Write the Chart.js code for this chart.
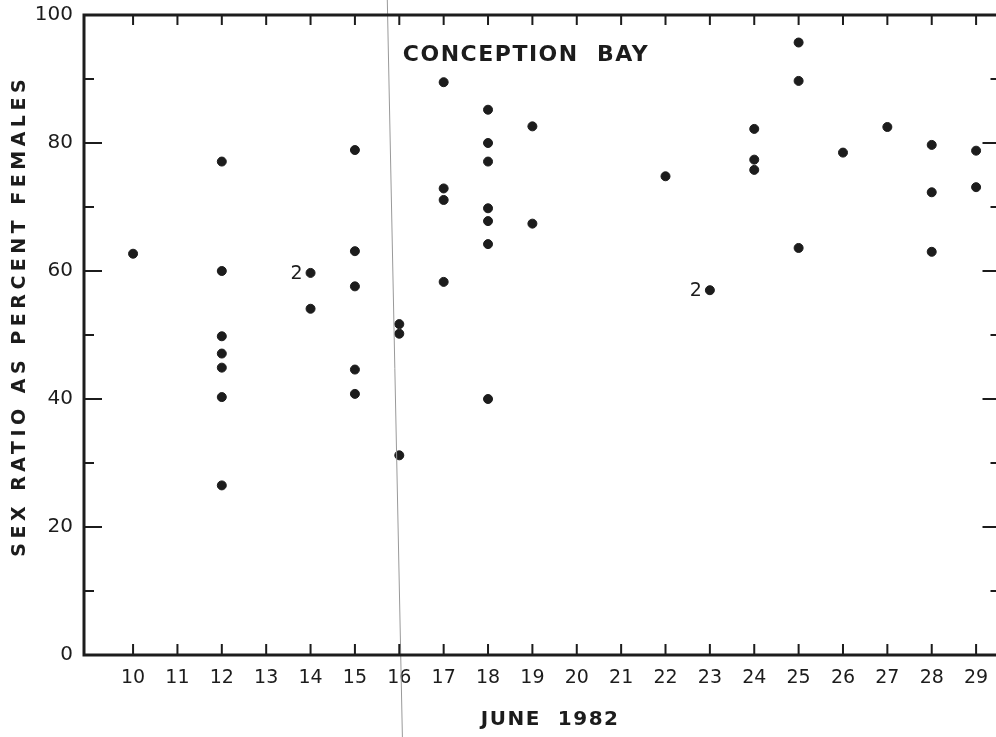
<!DOCTYPE html>
<html lang="en">
<head>
<meta charset="utf-8">
<title>Conception Bay sex ratio, June 1982</title>
<script src="https://cdn.jsdelivr.net/npm/chart.js@4.4.1/dist/chart.umd.min.js"></script>
<style>
  html, body { margin: 0; padding: 0; background: #fff; overflow: hidden; }
  canvas { display: block; }
</style>
</head>
<body>
<canvas id="chart" width="1006" height="737"></canvas>
<script>
// sampling day (June 1982) and sex ratio (% females) for each sample
const sampleDays = [10,
  12, 12, 12, 12, 12, 12, 12,
  14, 14,
  15, 15, 15, 15, 15,
  16, 16, 16,
  17, 17, 17, 17,
  18, 18, 18, 18, 18, 18, 18,
  19, 19,
  22, 23,
  24, 24, 24,
  25, 25, 25,
  26, 27,
  28, 28, 28,
  29, 29];
const sexRatio = [62.7,
  77.1, 60.0, 49.8, 47.1, 44.9, 40.3, 26.5,
  59.7, 54.1,
  78.9, 63.1, 57.6, 44.6, 40.8,
  51.7, 50.2, 31.2,
  89.5, 72.9, 71.1, 58.3,
  85.2, 80.0, 77.1, 69.8, 67.8, 64.2, 40.0,
  82.6, 67.4,
  74.8, 57.0,
  82.2, 77.4, 75.8,
  95.7, 89.7, 63.6,
  78.5, 82.5,
  79.7, 72.3, 63.0,
  78.8, 73.1];

// points that stand for two samples
const doubleDays = [14, 23];
const doubleValues = [59.7, 57.0];
const doubleText = ['2', '2'];

const xTickDays = [10, 11, 12, 13, 14, 15, 16, 17, 18, 19, 20, 21, 22, 23, 24, 25, 26, 27, 28, 29];
const yTickValues = [0, 10, 20, 30, 40, 50, 60, 70, 80, 90, 100];

const ink = '#1c1c1c';

// frame with inward ticks, the "2" labels, titles, and the paper crease
const decor = {
  id: 'decor',
  afterDraw(chart) {
    const { ctx, chartArea: a, scales: { x, y } } = chart;
    ctx.save();

    // crease in the scanned sheet
    ctx.strokeStyle = '#999';
    ctx.lineWidth = 1;
    ctx.beginPath();
    ctx.moveTo(x.getPixelForValue(15.73), 0);
    ctx.lineTo(x.getPixelForValue(16.07), chart.height);
    ctx.stroke();

    ctx.strokeStyle = ink;
    ctx.lineCap = 'butt';

    // ticks along top and bottom
    ctx.lineWidth = 2;
    x.ticks.forEach(t => {
      const px = x.getPixelForValue(t.value);
      ctx.beginPath();
      ctx.moveTo(px, a.bottom);
      ctx.lineTo(px, a.bottom - 11);
      ctx.moveTo(px, a.top);
      ctx.lineTo(px, a.top + 10);
      ctx.stroke();
    });

    // ticks along left and right
    y.ticks.forEach(t => {
      if (t.value === 0 || t.value === 100) return;
      const py = y.getPixelForValue(t.value);
      const len = t.value % 20 === 0 ? 18 : 10;
      ctx.beginPath();
      ctx.moveTo(a.left, py);
      ctx.lineTo(a.left + len, py);
      ctx.moveTo(a.right, py);
      ctx.lineTo(a.right - len, py);
      ctx.stroke();
    });

    // frame
    ctx.lineWidth = 3;
    ctx.strokeRect(a.left, a.top, a.right - a.left, a.bottom - a.top);

    ctx.fillStyle = ink;

    // "2" beside double points
    ctx.font = '19px "DejaVu Sans"';
    ctx.textAlign = 'right';
    ctx.textBaseline = 'middle';
    doubleDays.forEach((d, i) => {
      ctx.fillText(doubleText[i], x.getPixelForValue(d) - 8, y.getPixelForValue(doubleValues[i]) + 1);
    });

    // panel title
    ctx.font = 'bold 22px "DejaVu Sans"';
    ctx.textAlign = 'left';
    ctx.letterSpacing = '1.5px';
    ctx.fillText('CONCEPTION  BAY', x.getPixelForValue(16.08), y.getPixelForValue(93.7));

    // x axis title
    ctx.textAlign = 'center';
    ctx.letterSpacing = '1.5px';
    ctx.font = 'bold 20px "DejaVu Sans"';
    ctx.fillText('JUNE  1982', x.getPixelForValue(19.4), 720);

    // y axis title
    ctx.translate(20, y.getPixelForValue(53));
    ctx.rotate(-Math.PI / 2);
    ctx.letterSpacing = '4.5px';
    ctx.font = 'bold 19px "DejaVu Sans"';
    ctx.fillText('SEX RATIO AS PERCENT FEMALES', 0, 0);

    ctx.restore();
  }
};

new Chart(document.getElementById('chart'), {
  type: 'scatter',
  data: {
    datasets: [{
      data: sampleDays.map((d, i) => ({ x: d, y: sexRatio[i] })),
      backgroundColor: ink,
      borderColor: ink,
      pointRadius: 4.5,
      pointHoverRadius: 4.5
    }]
  },
  options: {
    responsive: false,
    animation: false,
    events: [],
    layout: { padding: { top: 15, right: 1, left: 0, bottom: 0 } },
    plugins: { legend: { display: false }, tooltip: { enabled: false } },
    scales: {
      x: {
        type: 'linear',
        min: 8.894,
        max: 29.55,
        grid: { display: false, drawTicks: false },
        border: { display: false },
        afterBuildTicks: axis => { axis.ticks = xTickDays.map(v => ({ value: v })); },
        afterFit: axis => { axis.height = 82; axis.paddingLeft = 0; axis.paddingRight = 0; },
        ticks: { color: ink, font: { family: '"DejaVu Sans"', size: 19 }, padding: 12, maxRotation: 0, autoSkip: false }
      },
      y: {
        min: 0,
        max: 100,
        grid: { display: false, drawTicks: false },
        border: { display: false },
        afterBuildTicks: axis => { axis.ticks = yTickValues.map(v => ({ value: v })); },
        afterFit: axis => { axis.width = 84; axis.paddingTop = 0; axis.paddingBottom = 0; },
        ticks: {
          color: ink,
          font: { family: '"DejaVu Sans"', size: 20 },
          padding: 11,
          callback: v => (v % 20 === 0 ? v : '')
        }
      }
    }
  },
  plugins: [decor]
});
</script>
</body>
</html>
